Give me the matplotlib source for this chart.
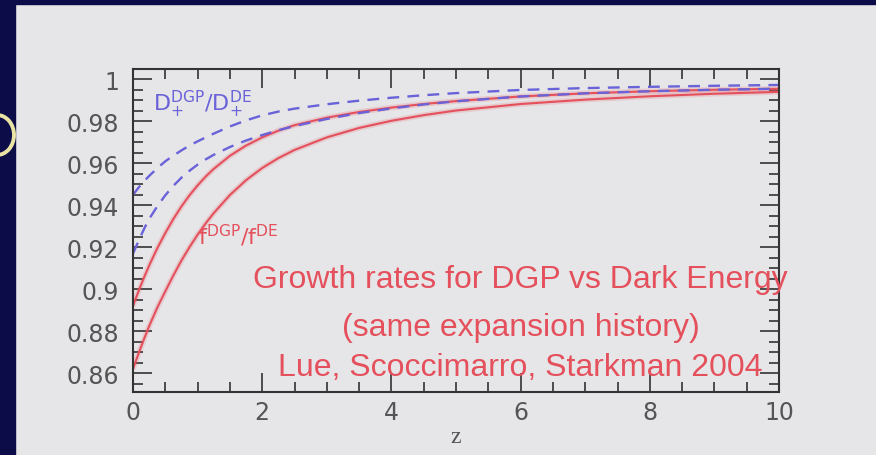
"""
Growth rate ratios for DGP gravity versus a dark energy model
with the same expansion history.
"""

import matplotlib.pyplot as plt
from matplotlib.patches import Rectangle, Ellipse
from matplotlib.ticker import MultipleLocator

# redshift samples
z = [0, 0.05, 0.1, 0.175, 0.25, 0.375, 0.5, 0.625, 0.75, 0.875, 1.0, 1.125, 1.25,
     1.5, 1.75, 2.0, 2.25, 2.5, 3, 3.5, 4, 4.5, 5, 6, 7, 8, 9, 10]

# D_+^DGP / D_+^DE (two cases, dashed)
d_ratio_hi = [0.945, 0.947, 0.949, 0.9516, 0.954, 0.9577, 0.961, 0.9637, 0.9662,
              0.9685, 0.9705, 0.9724, 0.9742, 0.9776, 0.9805, 0.9829, 0.9847, 0.9861,
              0.9882, 0.9899, 0.9913, 0.9925, 0.9935, 0.9950, 0.9959, 0.9965, 0.9970,
              0.9974]
d_ratio_lo = [0.917, 0.9205, 0.924, 0.929, 0.9335, 0.9395, 0.9448, 0.9493, 0.9532,
              0.9565, 0.9594, 0.9619, 0.9641, 0.9678, 0.9709, 0.9735, 0.9758, 0.9778,
              0.9812, 0.9840, 0.9862, 0.9881, 0.9896, 0.9919, 0.9934, 0.9944, 0.9951,
              0.9956]

# f^DGP / f^DE (two cases, solid)
f_ratio_hi = [0.892, 0.8962, 0.9002, 0.9059, 0.9113, 0.9195, 0.9268, 0.9335, 0.9395,
              0.9448, 0.9495, 0.9537, 0.9574, 0.9636, 0.9685, 0.9724, 0.9756, 0.9782,
              0.9818, 0.9845, 0.9866, 0.9883, 0.9897, 0.9919, 0.9934, 0.9944, 0.9951,
              0.9956]
f_ratio_lo = [0.862, 0.8663, 0.8705, 0.8766, 0.8824, 0.8912, 0.899, 0.9066, 0.9137,
              0.9201, 0.926, 0.9314, 0.9363, 0.9449, 0.952, 0.9578, 0.9625, 0.9664,
              0.9724, 0.9769, 0.9803, 0.983, 0.9852, 0.9883, 0.9904, 0.992, 0.9932,
              0.9941]

yticks = [0.86, 0.88, 0.90, 0.92, 0.94, 0.96, 0.98, 1.00]
ytick_labels = ['0.86', '0.88', '0.9', '0.92', '0.94', '0.96', '0.98', '1']
xticks = [0, 2, 4, 6, 8, 10]

caption = ['Growth rates for DGP vs Dark Energy',
           '(same expansion history)',
           'Lue, Scoccimarro, Starkman 2004']

BLUE = '#6a62d8'
RED = '#e4505c'
SLIDE = '#e6e6e8'
NAVY = '#0b0c48'

plt.rcParams['font.family'] = 'DejaVu Sans'
plt.rcParams['mathtext.fontset'] = 'dejavusans'

W, H = 876, 456
fig = plt.figure(figsize=(W / 100, H / 100), dpi=100, facecolor=SLIDE)

# slide frame: navy strips and the edge of a bullet ring
fig.patches.append(Rectangle((0, 0), 15 / W, 1, transform=fig.transFigure,
                             color=NAVY, zorder=0))
fig.patches.append(Rectangle((0, 1 - 5 / H), 1, 5 / H, transform=fig.transFigure,
                             color=NAVY, zorder=0))
fig.patches.append(Ellipse((-3 / W, 1 - 136 / H), 34 / W, 40 / H,
                           transform=fig.transFigure, facecolor='none',
                           edgecolor='#e9e3a6', lw=2.8, zorder=1))

ax = fig.add_axes([133 / W, 1 - 393 / H, 646 / W, 323 / H])
ax.set_facecolor('none')

# soft glow under the red curves, then the curves
for f in (f_ratio_hi, f_ratio_lo):
    ax.plot(z, f, color=RED, lw=4.0, alpha=0.18, solid_capstyle='butt')
    ax.plot(z, f, color=RED, lw=1.5)
for d in (d_ratio_hi, d_ratio_lo):
    ax.plot(z, d, color=BLUE, lw=1.7, dashes=(5, 3.5))

ax.set_xlim(0, 10)
ax.set_ylim(0.851, 1.005)
ax.set_xticks(xticks)
ax.set_yticks(yticks)
ax.set_yticklabels(ytick_labels)
ax.xaxis.set_minor_locator(MultipleLocator(0.5))
ax.yaxis.set_minor_locator(MultipleLocator(0.005))

ax.tick_params(which='both', direction='in', top=True, right=True,
               color='#333333', labelcolor='#555555', width=1.2)
ax.tick_params(which='major', length=14, labelsize=17)
ax.tick_params(axis='y', which='major', pad=10)
ax.tick_params(axis='x', which='major', pad=6)
ax.tick_params(which='minor', length=7)
for s in ax.spines.values():
    s.set_color('#333333')
    s.set_linewidth(1.5)

ax.set_xlabel('z', family='Liberation Serif', fontsize=17, color='#555555', labelpad=1)

ax.text(0.31, 0.9852, r'$\mathrm{D}_{+}^{\rm DGP}/\mathrm{D}_{+}^{\rm DE}$',
        color=BLUE, fontsize=16)
ax.text(1.0, 0.9215, r'$\mathrm{f}^{\rm DGP}/\mathrm{f}^{\rm DE}$', color=RED, fontsize=16)

for line, y in zip(caption, [0.9010, 0.8781, 0.8590]):
    ax.text(6.0, y, line, color=RED, family='Liberation Sans', fontsize=23,
            ha='center', va='baseline')

fig.savefig('out.png', dpi=100, facecolor=SLIDE)
